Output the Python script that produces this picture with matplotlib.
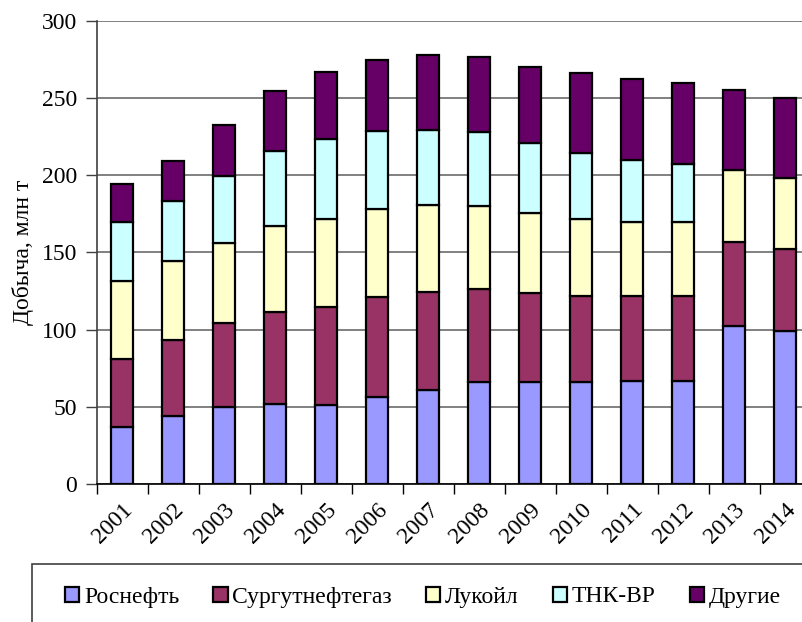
import numpy as np
import matplotlib.pyplot as plt
from matplotlib.patches import Rectangle, Patch

plt.rcParams['font.family'] = 'serif'
plt.rcParams['font.serif'] = ['Liberation Serif', 'DejaVu Serif']

# Oil production by company, mln t
years = [str(y) for y in range(2001, 2015)]
rosneft = [37.1, 44.3, 50.1, 51.8, 51.2, 56.2, 60.9, 65.9, 66.3, 65.9, 66.8, 66.8, 102.2, 99.2]
surgut = [43.7, 49.0, 54.0, 59.5, 63.7, 65.2, 63.7, 60.3, 57.3, 56.1, 55.0, 55.0, 54.4, 53.1]
lukoil = [51.0, 51.2, 51.9, 55.9, 56.8, 56.8, 56.2, 54.2, 51.8, 49.7, 48.2, 47.8, 46.9, 45.8]
tnk = [37.8, 38.9, 43.4, 48.4, 51.6, 50.8, 48.4, 47.9, 45.4, 43.0, 40.2, 38.0, np.nan, np.nan]
others = [24.6, 25.9, 33.3, 39.3, 43.9, 46.0, 48.8, 48.6, 49.2, 51.4, 52.3, 52.5, 51.6, 52.1]

series = [rosneft, surgut, lukoil, tnk, others]
names = ['Роснефть', 'Сургутнефтегаз', 'Лукойл', 'ТНК-ВР', 'Другие']
colors = ['#9999FF', '#993366', '#FFFFCC', '#CCFFFF', '#660066']

fig = plt.figure(figsize=(8.02, 6.22), dpi=100)
ax = fig.add_axes([96.7 / 802, 138 / 622, 714 / 802, 463 / 622])

x = np.arange(len(years))
bottom = np.zeros(len(years))
for vals, c in zip(series, colors):
    v = np.array(vals, dtype=float)
    ax.bar(x, v, 0.42, bottom=bottom, color=c, edgecolor='black', linewidth=1.6, zorder=3)
    bottom += np.nan_to_num(v)

ax.set_xlim(-0.5, len(years) - 0.5)
ax.set_ylim(0, 300)
ax.set_yticks(range(0, 301, 50))
ax.yaxis.grid(True, color='#808080', linewidth=1.4, zorder=0)
ax.tick_params(axis='y', labelsize=17, length=8, width=1, color='#404040', pad=6)

ax.set_xticks(x)
ax.set_xticklabels(years, rotation=45, ha='right', va='top', rotation_mode='anchor', fontsize=17)
ax.tick_params(axis='x', which='major', length=0, pad=11)
ax.set_xticks(np.arange(-0.5, len(years), 1), minor=True)
ax.tick_params(axis='x', which='minor', length=7, width=1)

for s in ['top', 'right']:
    ax.spines[s].set_visible(False)
ax.spines['left'].set_color('#404040')
ax.spines['left'].set_linewidth(1.2)
ax.spines['bottom'].set_linewidth(1.2)

ax.set_ylabel('Добыча, млн т', fontsize=17, labelpad=6)

# legend box
fig.patches.append(Rectangle((32 / 802, -0.1), 1.0, (622 - 564) / 622 + 0.1,
                             transform=fig.transFigure, facecolor='none',
                             edgecolor='#404040', linewidth=1.2))
handles = [Patch(facecolor=c, edgecolor='black', linewidth=1.6) for c in colors]
fig.legend(handles, names, loc='center left', bbox_to_anchor=(65 / 802, 1 - 597 / 622),
           ncol=5, frameon=False, fontsize=17, handlelength=0.6, handleheight=0.6,
           handletextpad=0.2, columnspacing=1.45, borderpad=0, borderaxespad=0)

fig.savefig('out.png', dpi=100)
